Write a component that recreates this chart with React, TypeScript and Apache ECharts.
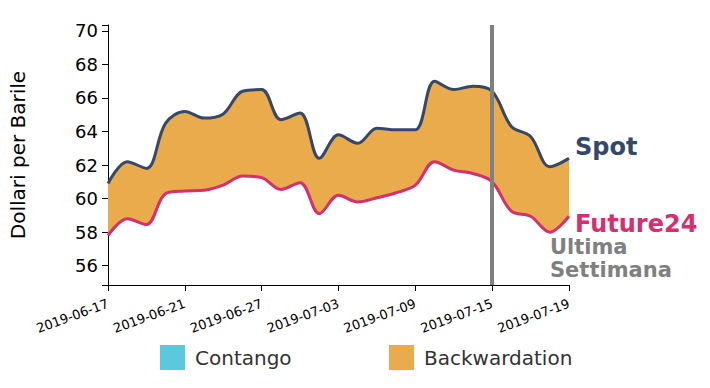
import React, { useEffect, useRef } from "react";
import * as echarts from "echarts";

const dates = [
  "2019-06-17", "2019-06-18", "2019-06-19", "2019-06-20", "2019-06-21",
  "2019-06-24", "2019-06-25", "2019-06-26", "2019-06-27", "2019-06-28",
  "2019-07-01", "2019-07-02", "2019-07-03", "2019-07-04", "2019-07-05",
  "2019-07-08", "2019-07-09", "2019-07-10", "2019-07-11", "2019-07-12",
  "2019-07-15", "2019-07-16", "2019-07-17", "2019-07-18", "2019-07-19",
];
const spot = [
  60.9, 62.2, 61.8, 64.5, 65.2, 64.8, 65.05, 66.4, 66.5, 64.7,
  65.1, 62.4, 63.8, 63.3, 64.2, 64.1, 64.1, 67.0, 66.5, 66.7,
  66.4, 64.3, 63.7, 61.9, 62.4,
];
const future24 = [
  57.8, 58.8, 58.45, 60.3, 60.45, 60.5, 60.8, 61.35, 61.25, 60.55,
  60.95, 59.1, 60.2, 59.8, 60.05, 60.35, 60.8, 62.2, 61.7, 61.5,
  61.0, 59.25, 58.95, 58.0, 58.95,
];
const yTickLabels = [56, 58, 60, 62, 64, 66, 68, 70];
const yMin = 54.85;
const yMax = 70.35;
const lastWeekDate = "2019-07-15";
const legendItems = ["Contango", "Backwardation"];

const FONT = "DejaVu Sans";
const SPOT_COLOR = "#344869";
const FUT_COLOR = "#d62e6f";
const BACK_COLOR = "#e9ab4c";
const CONT_COLOR = "#5bc8dc";
const GREY = "#808080";
const SMOOTH = 0.35;

export default function App() {
  const ref = useRef<HTMLDivElement>(null);
  useEffect(() => {
    if (!ref.current) return;
    const chart = echarts.init(ref.current, null, { renderer: "svg" });
    const diff = spot.map((v, i) => +(v - future24[i]).toFixed(3));
    chart.setOption({
      animation: false,
      grid: { left: 108, right: 141, top: 25, bottom: 103 },
      xAxis: {
        type: "category",
        data: dates,
        boundaryGap: false,
        axisLine: { lineStyle: { color: "#000", width: 1 } },
        axisTick: { interval: 3, length: 6, lineStyle: { color: "#000" } },
        axisLabel: {
          interval: 3,
          rotate: 20,
          fontSize: 13,
          color: "#000",
          fontFamily: FONT,
          margin: 18,
        },
        splitLine: { show: false },
      },
      yAxis: {
        type: "value",
        min: yMin,
        max: yMax,
        axisLine: { show: true, lineStyle: { color: "#000", width: 1 } },
        axisTick: {
          show: true,
          length: 6,
          customValues: [yMin, ...yTickLabels, yMax],
          lineStyle: { color: "#000" },
        },
        axisLabel: {
          customValues: yTickLabels,
          fontSize: 18,
          color: "#000",
          fontFamily: FONT,
          margin: 10,
        },
        splitLine: { show: false },
      },
      series: [
        {
          name: "base",
          type: "line",
          stack: "band",
          data: future24,
          smooth: SMOOTH,
          symbol: "none",
          lineStyle: { width: 0, opacity: 0 },
          silent: true,
        },
        {
          name: "Backwardation",
          type: "line",
          stack: "band",
          data: diff,
          smooth: SMOOTH,
          symbol: "none",
          lineStyle: { width: 0, opacity: 0 },
          itemStyle: { color: BACK_COLOR },
          areaStyle: { color: BACK_COLOR, opacity: 1 },
          silent: true,
        },
        {
          name: "Spot",
          type: "line",
          data: spot,
          smooth: SMOOTH,
          symbol: "none",
          lineStyle: { color: SPOT_COLOR, width: 3 },
          silent: true,
        },
        {
          name: "Future24",
          type: "line",
          data: future24,
          smooth: SMOOTH,
          symbol: "none",
          lineStyle: { color: FUT_COLOR, width: 3 },
          silent: true,
          markLine: {
            silent: true,
            symbol: "none",
            label: { show: false },
            lineStyle: { color: GREY, width: 4, type: "solid" },
            data: [{ xAxis: lastWeekDate }],
          },
        },
      ],
      graphic: [
        {
          type: "text",
          x: 18,
          y: 155,
          rotation: Math.PI / 2,
          style: {
            text: "Dollari per Barile",
            fontSize: 20,
            fontFamily: FONT,
            fill: "#000",
            align: "center",
            verticalAlign: "middle",
          },
        },
        {
          type: "text",
          x: 575,
          y: 147,
          style: {
            text: "Spot",
            fontSize: 24,
            fontWeight: "bold",
            fontFamily: FONT,
            fill: SPOT_COLOR,
            verticalAlign: "middle",
          },
        },
        {
          type: "text",
          x: 575,
          y: 224,
          style: {
            text: "Future24",
            fontSize: 24,
            fontWeight: "bold",
            fontFamily: FONT,
            fill: FUT_COLOR,
            verticalAlign: "middle",
          },
        },
        {
          type: "text",
          x: 550,
          y: 247,
          style: {
            text: "Ultima",
            fontSize: 21,
            fontWeight: "bold",
            fontFamily: FONT,
            fill: GREY,
            verticalAlign: "middle",
          },
        },
        {
          type: "text",
          x: 550,
          y: 269.5,
          style: {
            text: "Settimana",
            fontSize: 21,
            fontWeight: "bold",
            fontFamily: FONT,
            fill: GREY,
            verticalAlign: "middle",
          },
        },
        {
          type: "rect",
          shape: { x: 160, y: 345, width: 25, height: 25 },
          style: { fill: CONT_COLOR },
        },
        {
          type: "text",
          x: 195,
          y: 358,
          style: {
            text: legendItems[0],
            fontSize: 20,
            fontFamily: FONT,
            fill: "#333",
            verticalAlign: "middle",
          },
        },
        {
          type: "rect",
          shape: { x: 389, y: 345, width: 25, height: 25 },
          style: { fill: BACK_COLOR },
        },
        {
          type: "text",
          x: 424,
          y: 358,
          style: {
            text: legendItems[1],
            fontSize: 20,
            fontFamily: FONT,
            fill: "#333",
            verticalAlign: "middle",
          },
        },
      ],
    });
    return () => chart.dispose();
  }, []);
  return <div ref={ref} style={{ width: 710, height: 388, margin: -8 }} />;
}
